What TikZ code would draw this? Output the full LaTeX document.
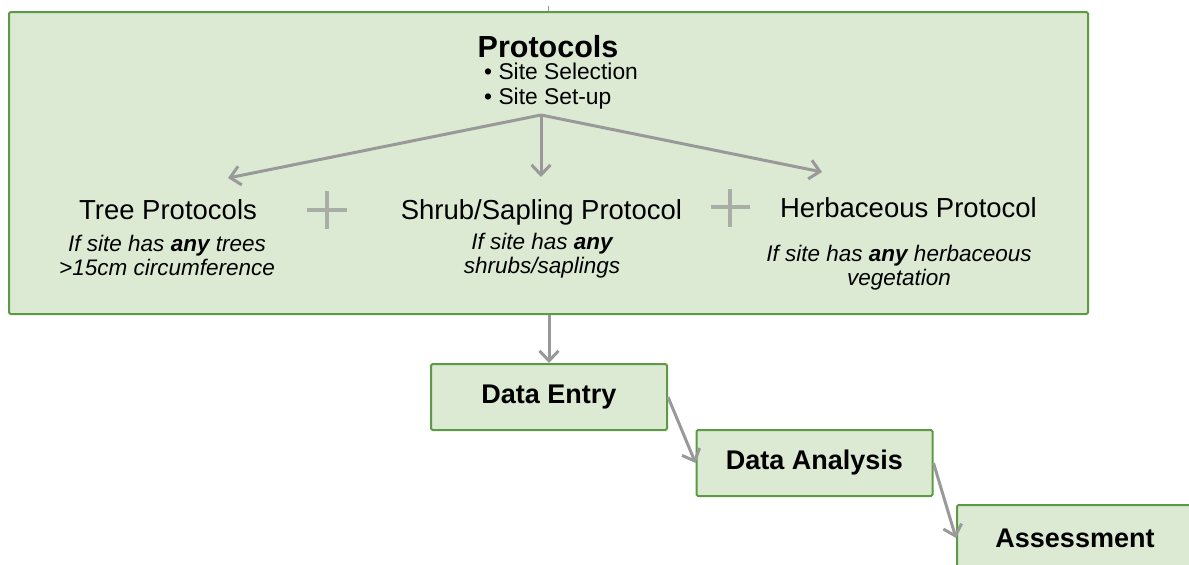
\documentclass[tikz,border=0pt]{standalone}
\usepackage{fontspec}
\setmainfont{Liberation Sans}
\usetikzlibrary{arrows.meta}
\definecolor{boxfill}{HTML}{DCEAD4}
\definecolor{boxdraw}{HTML}{5C9A45}
\definecolor{arr}{HTML}{999999}
\definecolor{plusc}{HTML}{A8ADA6}
\begin{document}
\begin{tikzpicture}[x=1pt,y=-1pt,
  box/.style={draw=boxdraw,fill=boxfill,line width=2pt,rounded corners=1.5pt,inner sep=0pt},
  stagebox/.style={box,minimum width=236pt,minimum height=66pt,font=\fontsize{27}{32}\selectfont\bfseries},
  conn/.style={draw=arr,line width=3pt,-{Straight Barb[length=10pt,width=19pt,line width=3pt]}},
  plussign/.style={draw=plusc,line width=3.5pt},
  headtxt/.style={inner sep=0pt,anchor=base,font=\fontsize{30.5}{36}\selectfont\bfseries},
  bullettxt/.style={inner sep=0pt,anchor=base west,font=\fontsize{22.8}{27}\selectfont},
  protxt/.style={inner sep=0pt,anchor=base,font=\fontsize{27.5}{33}\selectfont},
  condtxt/.style={inner sep=0pt,anchor=base,align=center,font=\fontsize{22.5}{23.5}\selectfont\itshape}
]
\useasboundingbox (0,0) rectangle (1189,565);
\clip (0,0) rectangle (1189,565);

% main protocols box
\node[box,minimum width=1079pt,minimum height=302pt] (main) at (548.5,163) {};
\coordinate (topstub) at (548,6);
\draw[draw=arr,line width=1pt] (topstub) -- (topstub |- main.north);

\node[headtxt] (title) at (548,57) {Protocols};
\node[bullettxt] (sel) at (484,79) {• Site Selection};
\node[bullettxt] (setup) at (484,104) {• Site Set-up};

\node[protxt] (tree) at (168,219) {Tree Protocols};
\node[protxt] (shrub) at (541.5,219) {Shrub/Sapling Protocol};
\node[protxt] (herb) at (908.5,217) {Herbaceous Protocol};

\node[condtxt,anchor=north] (treec) at (167,235) {If site has \textbf{any} trees\\>15cm circumference};
\node[condtxt,anchor=north] (shrubc) at (542,233) {If site has \textbf{any}\\shrubs/saplings};
\node[condtxt,anchor=north] (herbc) at (899,245) {If site has \textbf{any} herbaceous\\vegetation};

% branch arrows
\coordinate (split) at (541,115);
\coordinate (treetip) at (228,178);
\coordinate (shrubtip) at (541,177);
\coordinate (herbtip) at (822,172);
\draw[conn] (split) -- (treetip);
\draw[conn] (split) -- (shrubtip);
\draw[conn] (split) -- (herbtip);

% plus signs
\draw[plussign] (307,210) -- (347,210) (327,191) -- (327,229);
\draw[plussign] (711,207) -- (750,207) (730,189) -- (730,227);

% stage boxes
\node[stagebox] (entry) at (549,397) {Data Entry};
\node[stagebox] (analysis) at (814.5,463) {Data Analysis};
\node[stagebox] (assess) at (1075,538) {Assessment};

\draw[conn] (main.south -| entry.north) -- (entry.north);
\draw[conn] (entry.east) -- (analysis.west);
\draw[conn] (analysis.east) -- (assess.west);
\end{tikzpicture}
\end{document}
